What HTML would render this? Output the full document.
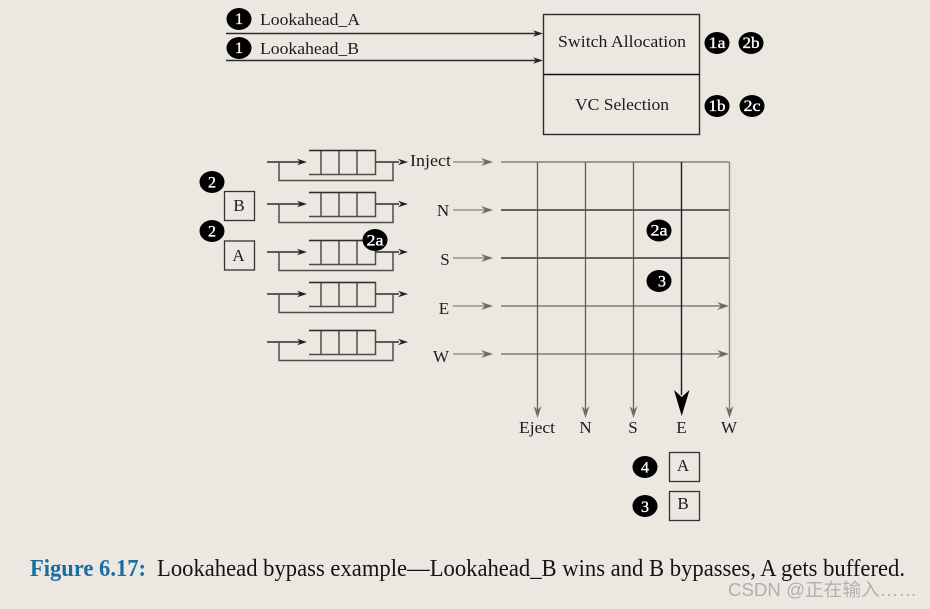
<!DOCTYPE html>
<html>
<head>
<meta charset="utf-8">
<style>
html,body{margin:0;padding:0;background:#ece8e1;}
body{width:930px;height:609px;overflow:hidden;position:relative;}
svg{position:absolute;left:0;top:0;display:block;}
text{font-family:"Liberation Serif",serif;fill:#1c1c1c;}
.b text{fill:#fff;font-size:16px;text-anchor:middle;stroke:#fff;stroke-width:.35px;}
</style>
</head>
<body>
<svg width="930" height="609" viewBox="0 0 930 609" xmlns="http://www.w3.org/2000/svg">
<defs>
<g id="q">
  <path d="M309 150.500H375.500V174.500H309M321 150.500V174.500M339 150.500V174.500M357 150.500V174.500" fill="none" stroke="#4e4d4a" stroke-width="1.500"/>
  <path d="M309 150.500H375.500" fill="none" stroke="#2c2c2a" stroke-width="1.300"/>
  <path d="M267 162H300M375.500 162H399" fill="none" stroke="#2c2c2a" stroke-width="1.400"/>
  <path d="M279 162V180.500H393V162" fill="none" stroke="#4e4d4a" stroke-width="1.500"/>
  <path d="M307 162L297 158.800L300 162L297 165.200Z" fill="#222"/>
  <path d="M408 162L398 158.800L401 162L398 165.200Z" fill="#222"/>
</g>
<path id="ah" d="M0 0L-12 -4L-8 0L-12 4Z" fill="#6e6c68"/>
<path id="av" d="M0 0L-4 -12L0 -8L4 -12Z" fill="#6e6c68"/>
<path id="as" d="M0 0L-10 -3.200L-7 0L-10 3.200Z" fill="#222"/>
</defs>

<!-- top lines -->
<path d="M226 33.500H538M226 60.500H538" stroke="#2c2c2a" stroke-width="1.400" fill="none"/>
<use href="#as" x="543" y="33.500"/>
<use href="#as" x="543" y="60.500"/>
<text x="260" y="25" font-size="17" textLength="100" lengthAdjust="spacingAndGlyphs">Lookahead_A</text>
<text x="260" y="54" font-size="17" textLength="99" lengthAdjust="spacingAndGlyphs">Lookahead_B</text>

<!-- allocator -->
<rect x="543.500" y="14.500" width="156" height="120" fill="none" stroke="#2c2c2a" stroke-width="1.400"/>
<path d="M543.500 74.500H699.500" stroke="#111" stroke-width="1.500"/>
<text x="622" y="47" font-size="17" text-anchor="middle" textLength="128" lengthAdjust="spacingAndGlyphs">Switch Allocation</text>
<text x="622" y="110" font-size="17" text-anchor="middle" textLength="94" lengthAdjust="spacingAndGlyphs">VC Selection</text>

<!-- queues -->
<use href="#q"/>
<use href="#q" y="42"/>
<use href="#q" y="90"/>
<use href="#q" y="132"/>
<use href="#q" y="180"/>

<!-- packets left -->
<rect x="224.500" y="191.500" width="30" height="29" fill="none" stroke="#333" stroke-width="1.300"/>
<rect x="224.500" y="241" width="30" height="29" fill="none" stroke="#333" stroke-width="1.300"/>
<text x="239" y="211" font-size="17" text-anchor="middle">B</text>
<text x="238.500" y="261" font-size="17" text-anchor="middle">A</text>

<!-- input labels -->
<text x="410" y="166" font-size="17" textLength="41" lengthAdjust="spacingAndGlyphs">Inject</text>
<text x="443" y="216" font-size="17" text-anchor="middle">N</text>
<text x="445" y="265" font-size="17" text-anchor="middle">S</text>
<text x="444" y="314" font-size="17" text-anchor="middle">E</text>
<text x="441" y="362" font-size="17" text-anchor="middle">W</text>

<!-- grey stubs -->
<path d="M453 162H488M453 210H488M453 258H488M453 306H488M453 354H488" stroke="#85837e" stroke-width="1.300" fill="none"/>
<use href="#ah" x="493" y="162"/>
<use href="#ah" x="493" y="210"/>
<use href="#ah" x="493" y="258"/>
<use href="#ah" x="493" y="306"/>
<use href="#ah" x="493" y="354"/>

<!-- crossbar -->
<path d="M501 162H729.500" stroke="#85837e" stroke-width="1.400" fill="none"/>
<path d="M501 210H729.500M501 258H729.500" stroke="#383735" stroke-width="1.500" fill="none"/>
<path d="M501 306H725M501 354H725" stroke="#6a6864" stroke-width="1.300" fill="none"/>
<use href="#ah" x="729" y="306"/>
<use href="#ah" x="729" y="354"/>
<path d="M537.500 162V412M585.500 162V412M633.500 162V412" stroke="#605e5a" stroke-width="1.300" fill="none"/>
<path d="M729.500 162V412" stroke="#85837e" stroke-width="1.400" fill="none"/>
<path d="M681.500 162V395" stroke="#1c1c1c" stroke-width="1.400" fill="none"/>
<use href="#av" x="537.500" y="418"/>
<use href="#av" x="585.500" y="418"/>
<use href="#av" x="633.500" y="418"/>
<use href="#av" x="729.500" y="418"/>
<path d="M681.700 416L674 390L681.700 397L689.500 390Z" fill="#000"/>

<!-- output labels -->
<text x="537" y="433" font-size="17" text-anchor="middle" textLength="36" lengthAdjust="spacingAndGlyphs">Eject</text>
<text x="585.500" y="433" font-size="17" text-anchor="middle">N</text>
<text x="633" y="433" font-size="17" text-anchor="middle">S</text>
<text x="681.500" y="433" font-size="17" text-anchor="middle">E</text>
<text x="729" y="433" font-size="17" text-anchor="middle">W</text>

<!-- packets bottom -->
<rect x="669.500" y="452.500" width="30" height="29" fill="none" stroke="#333" stroke-width="1.300"/>
<rect x="669.500" y="491.500" width="30" height="29" fill="none" stroke="#333" stroke-width="1.300"/>
<text x="683" y="471" font-size="17" text-anchor="middle">A</text>
<text x="683" y="509" font-size="17" text-anchor="middle">B</text>

<!-- badges -->
<g class="b">
<ellipse cx="239" cy="19" rx="12.500" ry="11" fill="#000"/><text x="239" y="24">1</text>
<ellipse cx="239" cy="48" rx="12.500" ry="11" fill="#000"/><text x="239" y="53">1</text>
<ellipse cx="717" cy="43" rx="12.500" ry="11" fill="#000"/><text x="717" y="48" textLength="17" lengthAdjust="spacingAndGlyphs">1a</text>
<ellipse cx="751" cy="43" rx="12.500" ry="11" fill="#000"/><text x="751" y="48" textLength="17" lengthAdjust="spacingAndGlyphs">2b</text>
<ellipse cx="717" cy="106" rx="12.500" ry="11" fill="#000"/><text x="717" y="111" textLength="17" lengthAdjust="spacingAndGlyphs">1b</text>
<ellipse cx="752" cy="106" rx="12.500" ry="11" fill="#000"/><text x="752" y="111" textLength="17" lengthAdjust="spacingAndGlyphs">2c</text>
<ellipse cx="212" cy="182" rx="12.500" ry="11" fill="#000"/><text x="212" y="187.500">2</text>
<ellipse cx="212" cy="231" rx="12.500" ry="11" fill="#000"/><text x="212" y="236.500">2</text>
<ellipse cx="375" cy="240" rx="12.500" ry="11" fill="#000"/><text x="375" y="245.500" textLength="17" lengthAdjust="spacingAndGlyphs">2a</text>
<ellipse cx="659" cy="230.500" rx="12.500" ry="11" fill="#000"/><text x="659" y="235.500" textLength="17" lengthAdjust="spacingAndGlyphs">2a</text>
<ellipse cx="659" cy="281" rx="12.500" ry="11" fill="#000"/><text x="662" y="286.500">3</text>
<ellipse cx="645" cy="467" rx="12.500" ry="11" fill="#000"/><text x="645" y="472.500">4</text>
<ellipse cx="645" cy="506" rx="12.500" ry="11" fill="#000"/><text x="645" y="512">3</text>
</g>

<!-- caption -->
<text x="30" y="576" font-size="24.500" font-weight="bold" style="fill:#1c6d9f" textLength="116" lengthAdjust="spacingAndGlyphs">Figure 6.17:</text>
<text x="157" y="576" font-size="24.500" style="fill:#141414" textLength="748" lengthAdjust="spacingAndGlyphs">Lookahead bypass example—Lookahead_B wins and B bypasses, A gets buffered.</text>
<text x="728" y="596" font-size="18" style="font-family:'Liberation Sans','Noto Sans CJK SC',sans-serif;fill:#b0afac" textLength="189" lengthAdjust="spacingAndGlyphs">CSDN @正在输入……</text>
</svg>
</body>
</html>
